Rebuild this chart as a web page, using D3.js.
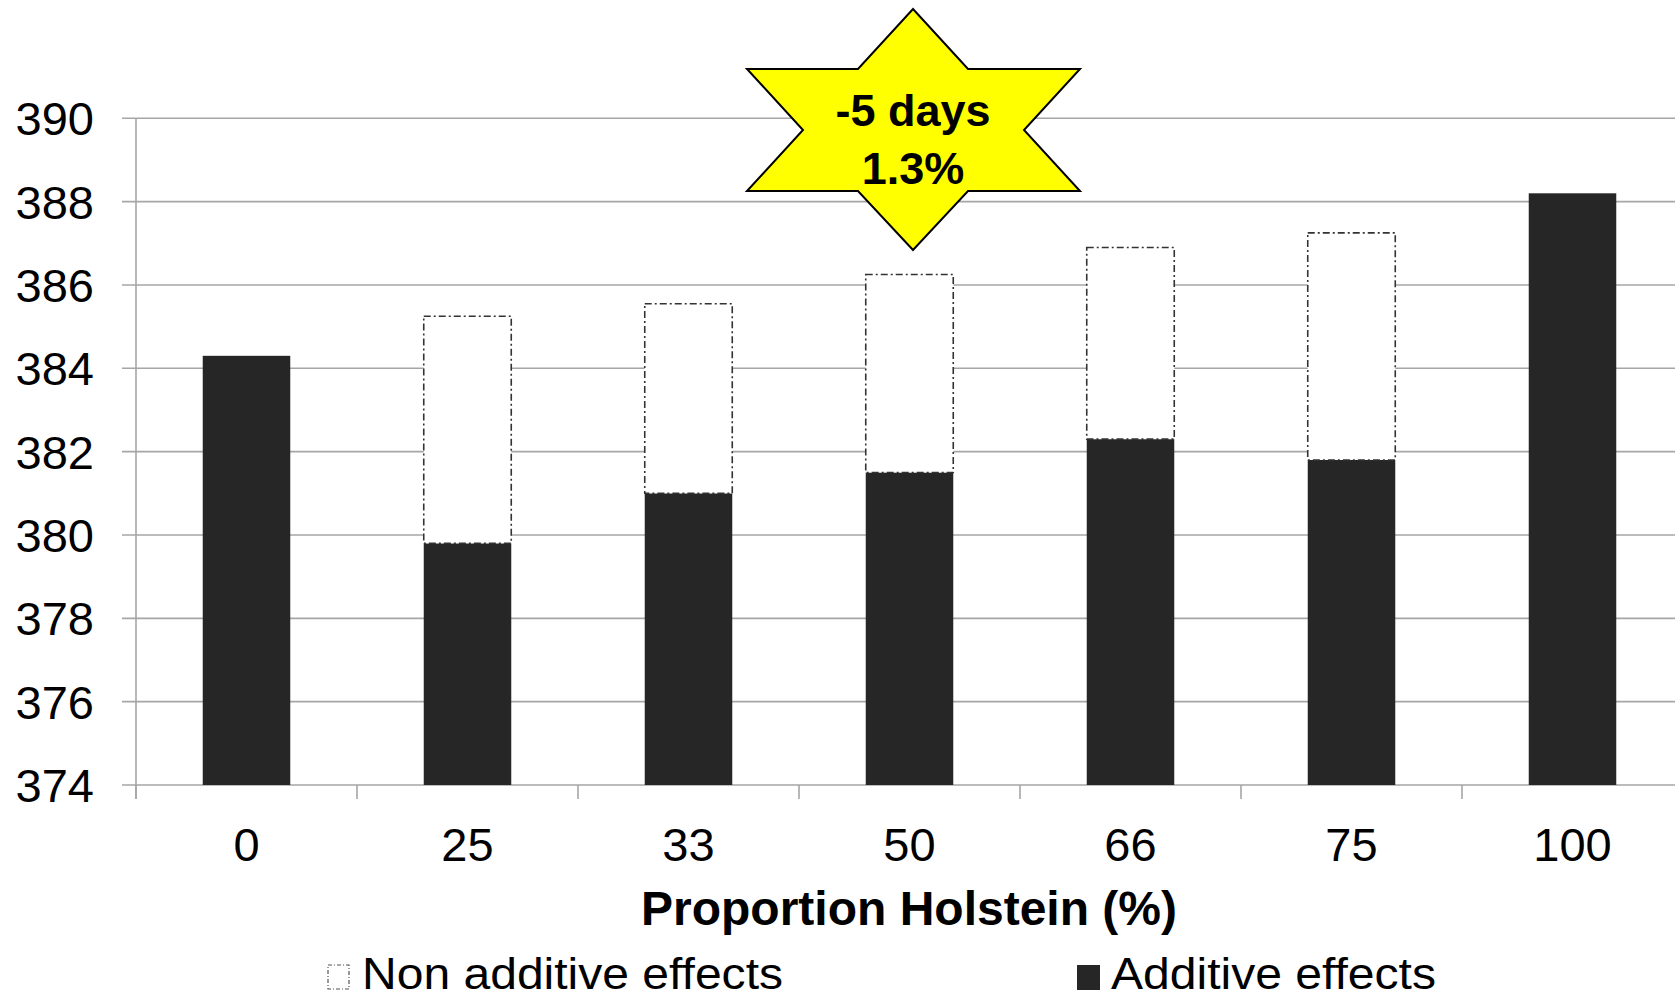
<!DOCTYPE html>
<html>
<head>
<meta charset="utf-8">
<script src="https://cdn.jsdelivr.net/npm/d3@7"></script>
<style>
html,body{margin:0;padding:0;background:#fff;}
svg{display:block;}
text{font-family:"Liberation Sans",Arial,sans-serif;}
</style>
</head>
<body>
<svg id="chart" width="1675" height="998"></svg>
<script>
const categories = ["0","25","33","50","66","75","100"];
const additive = [384.3, 379.8, 381.0, 381.5, 382.3, 381.8, 388.2];
const total = [384.3, 385.25, 385.55, 386.25, 386.9, 387.25, 388.2];
const nonAdditive = total.map((t,i)=> +(t - additive[i]).toFixed(2));
const yTicks = [374,376,378,380,382,384,386,388,390];
const legendLabels = ["Non additive effects","Additive effects"];
const starLines = ["-5 days","1.3%"];
const xTitle = "Proportion Holstein (%)";

(function(){
const svg = d3.select("#chart");
const pLeft = 136, pRight = 1683, pTop = 118.3, pBottom = 785;

const x = d3.scaleBand().domain(categories).range([pLeft,pRight]).paddingInner(0.604).paddingOuter(0.302);
const y = d3.scaleLinear().domain([374,390]).range([pBottom, pTop]);

const gridColor = "#a6a6a6";

svg.append("g").selectAll("line").data(yTicks).join("line")
  .attr("x1", pLeft-14).attr("x2", 1675)
  .attr("y1", d=>y(d)).attr("y2", d=>y(d))
  .attr("stroke", gridColor).attr("stroke-width", 1.6);

svg.append("line").attr("x1", pLeft).attr("x2", pLeft).attr("y1", pTop).attr("y2", pBottom+14)
  .attr("stroke", gridColor).attr("stroke-width", 1.6);

const step = x.step();
const bounds = categories.map(c => x(c) + x.bandwidth()/2 - step/2);
bounds.push(bounds[bounds.length-1] + step);
svg.append("g").selectAll("line").data(bounds).join("line")
  .attr("x1", d=>d).attr("x2", d=>d).attr("y1", pBottom).attr("y2", pBottom+14)
  .attr("stroke", gridColor).attr("stroke-width", 1.6);

svg.append("g").selectAll("text").data(yTicks).join("text")
  .attr("x", 94).attr("y", d=>y(d)+17)
  .attr("text-anchor","end").attr("font-size", 47).attr("fill","#000")
  .text(d=>d);

svg.append("g").selectAll("text").data(categories).join("text")
  .attr("x", d=>x(d)+x.bandwidth()/2).attr("y", 861)
  .attr("text-anchor","middle").attr("font-size", 47).attr("fill","#000")
  .text(d=>d);

svg.append("text").attr("x", 909).attr("y", 925).attr("text-anchor","middle")
  .attr("font-size", 48).attr("font-weight","bold").attr("fill","#000").text(xTitle);

svg.append("g").selectAll("rect").data(categories).join("rect")
  .attr("x", d=>x(d)).attr("width", x.bandwidth())
  .attr("y", (d,i)=>y(additive[i])).attr("height", (d,i)=>y(374)-y(additive[i]))
  .attr("fill","#262626");

svg.append("g").selectAll("rect").data(categories.filter((c,i)=>nonAdditive[i]>0)).join("rect")
  .attr("x", d=>x(d)).attr("width", x.bandwidth())
  .attr("y", d=>{const i=categories.indexOf(d); return y(additive[i]+nonAdditive[i]);})
  .attr("height", d=>{const i=categories.indexOf(d); return y(additive[i]) - y(additive[i]+nonAdditive[i]);})
  .attr("fill","#fff").attr("stroke","#333").attr("stroke-width",1.6)
  .attr("stroke-dasharray","7,3,2,3");

const starPts = [[913,9],[968,69],[1080,69],[1024,130],[1080,191],[968,191],[913,250],[858,191],[747,191],[803,130],[747,69],[858,69]];
svg.append("polygon").attr("points", starPts.map(p=>p.join(",")).join(" "))
  .attr("fill","#ffff00").attr("stroke","#000").attr("stroke-width",2);
svg.append("g").selectAll("text").data(starLines).join("text")
  .attr("x", 913).attr("y",(d,i)=>126+i*58).attr("text-anchor","middle")
  .attr("font-size", 45).attr("font-weight","bold").attr("fill","#000").text(d=>d);

svg.append("rect").attr("x",328).attr("y",965).attr("width",21).attr("height",24)
  .attr("fill","#fff").attr("stroke","#555").attr("stroke-width",1.2).attr("stroke-dasharray","4,2,1,2");
svg.append("text").attr("x",362).attr("y",989).attr("font-size",45)
  .attr("textLength",421).attr("lengthAdjust","spacingAndGlyphs").attr("fill","#000").text(legendLabels[0]);
svg.append("rect").attr("x",1077).attr("y",965).attr("width",23).attr("height",25).attr("fill","#262626");
svg.append("text").attr("x",1111).attr("y",989).attr("font-size",45)
  .attr("textLength",325).attr("lengthAdjust","spacingAndGlyphs").attr("fill","#000").text(legendLabels[1]);
})();
</script>
</body>
</html>
